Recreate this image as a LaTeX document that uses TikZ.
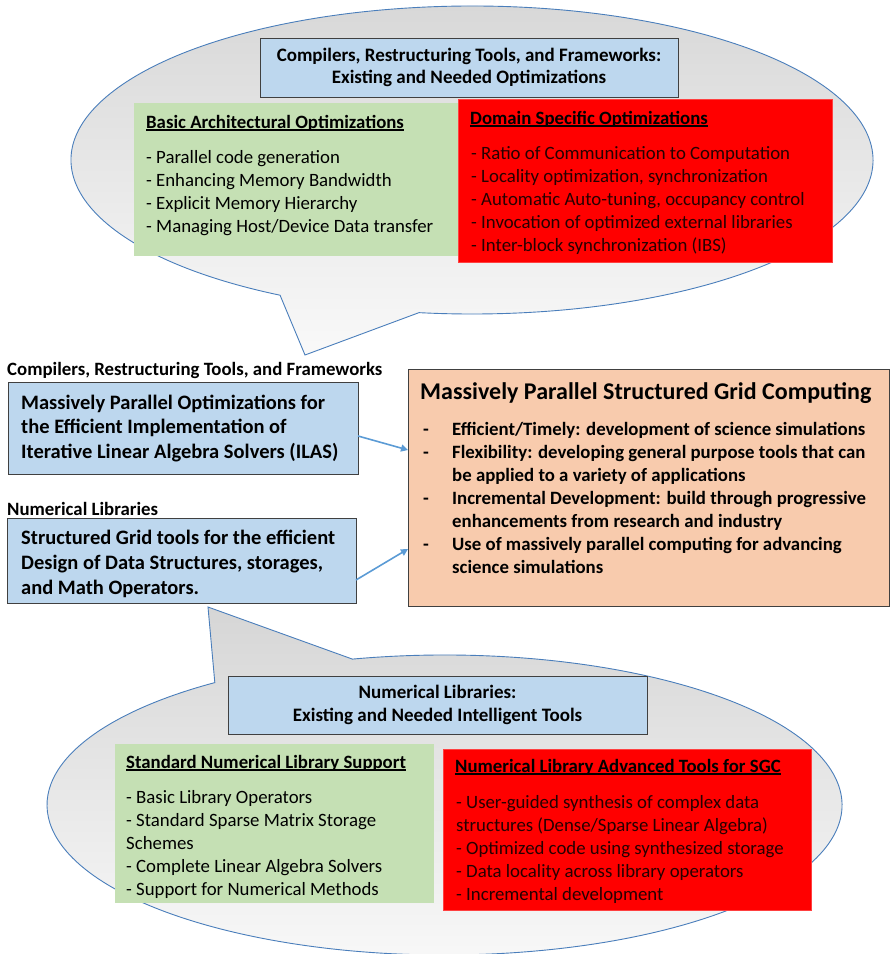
\documentclass[tikz,border=0pt]{standalone}
\usepackage{fontspec}
\setmainfont{Carlito}
\newsavebox\myulbox
\newcommand{\myul}[1]{\sbox\myulbox{#1}\rlap{\rule[-2.5pt]{\wd\myulbox}{1.4pt}}\usebox\myulbox}
\usetikzlibrary{arrows.meta}
\definecolor{lblue}{HTML}{BDD7EE}
\definecolor{lgreen}{HTML}{C5E0B4}
\definecolor{bred}{HTML}{FF0000}
\definecolor{lorange}{HTML}{F8CBAD}
\definecolor{cgray}{HTML}{D6D6D6}
\definecolor{cblue}{HTML}{4A7EBB}
\definecolor{arblue}{HTML}{5B9BD5}
\definecolor{bdark}{HTML}{404040}
\begin{document}
\begin{tikzpicture}[x=1pt,y=-1pt,
  box/.style={anchor=north west, inner sep=0pt, outer sep=0pt},
  item/.style={anchor=base west, inner sep=0pt, font=\fontsize{18.8}{22}\selectfont},
  titem/.style={anchor=base west, inner sep=0pt, font=\bfseries\fontsize{18.8}{22}\selectfont},
  bitem/.style={anchor=base west, inner sep=0pt, font=\bfseries\fontsize{18.8}{22}\selectfont},
  lab/.style={anchor=base west, inner sep=0pt, font=\bfseries\fontsize{18.8}{22}\selectfont},
  bigt/.style={anchor=base west, inner sep=0pt, font=\bfseries\fontsize{20.5}{24}\selectfont},
  callout/.style={draw=cblue, line width=0.9pt, top color=cgray, middle color=cgray!92!white, bottom color=white!85!cgray},
  arr/.style={draw=arblue, line width=1.6pt, -{Triangle[length=7pt,width=7pt]}}
]
\useasboundingbox (0,0) rectangle (891,954);

% ---------- top callout ----------
\path[callout] (472,160) ++(118.6:401 and 154)
  arc[start angle=118.6, end angle=457.6, x radius=401, y radius=154]
  -- (305,355) -- cycle;

\node[box, draw=bdark, line width=0.8pt, fill=lblue, minimum width=418pt, minimum height=59pt] (tt) at (260,38) {};
\node[align=center, inner sep=0pt, font=\bfseries\fontsize{19}{22.5}\selectfont] (ttx) at (469,67.5)
  {Compilers, Restructuring Tools, and Frameworks:\\Existing and Needed Optimizations};

\node[box, fill=lgreen, minimum width=324pt, minimum height=153pt] (g1) at (134,103) {};
\node[box, fill=bred, draw=red!75!white, line width=0.6pt, minimum width=374pt, minimum height=163pt] (r1) at (458,99) {};

\node[titem] (g1t) at (146,128) {\myul{Basic Architectural Optimizations}};
\foreach \t [count=\i] in {- Parallel code generation, - Enhancing Memory Bandwidth, - Explicit Memory Hierarchy, - Managing Host/Device Data transfer}
  \node[item] (g1i\i) at (146,{163+23*(\i-1)}) {\t};

\node[titem] (r1t) at (470,124) {\myul{Domain Specific Optimizations}};
\foreach \t [count=\i] in {- Ratio of Communication to Computation, {- Locality optimization, synchronization}, {- Automatic Auto-tuning, occupancy control}, - Invocation of optimized external libraries, - Inter-block synchronization (IBS)}
  \node[item, text=black!85!red] (r1i\i) at (471,{159+23*(\i-1)}) {\t};

% ---------- middle ----------
\node[lab] (l1) at (7,375) {Compilers, Restructuring Tools, and Frameworks};
\node[box, draw=bdark, line width=0.8pt, fill=lblue, minimum width=350pt, minimum height=92pt] (b1) at (8,382) {};
\node[bigt] (b1a) at (21,409) {Massively Parallel Optimizations for};
\node[bigt] (b1b) at (21,433) {the Efficient Implementation of};
\node[bigt] (b1c) at (21,458) {Iterative Linear Algebra Solvers (ILAS)};

\node[lab] (l2) at (7,515) {Numerical Libraries};
\node[box, draw=bdark, line width=0.8pt, fill=lblue, minimum width=349pt, minimum height=85pt] (b2) at (7,518) {};
\node[bigt] (b2a) at (21,544) {Structured Grid tools for the efficient};
\node[bigt] (b2b) at (21,569) {Design of Data Structures, storages,};
\node[bigt] (b2c) at (21,594) {and Math Operators.};

\node[box, draw=bdark, line width=0.8pt, fill=lorange, minimum width=481pt, minimum height=237pt] (mp) at (408,369) {};
\node[anchor=base west, inner sep=0pt, font=\bfseries\fontsize{24}{28}\selectfont] (mpt) at (420,399) {Massively Parallel Structured Grid Computing};
\node[bitem] (d1) at (423,435) {-};
\node[bitem] (m1) at (452,435) {Efficient/Timely: development of science simulations};
\node[bitem] (d2) at (423,458) {-};
\node[bitem] (m2) at (452,458) {Flexibility: developing general purpose tools that can};
\node[bitem] (m3) at (452,481) {be applied to a variety of applications};
\node[bitem] (d4) at (423,504) {-};
\node[bitem] (m4) at (452,504) {Incremental Development: build through progressive};
\node[bitem] (m5) at (452,527) {enhancements from research and industry};
\node[bitem] (d6) at (423,550) {-};
\node[bitem] (m6) at (452,550) {Use of massively parallel computing for advancing};
\node[bitem] (m7) at (452,573) {science simulations};

\draw[arr] ([yshift=-8pt]b1.east) -- ([yshift=37.5pt]mp.west);
\draw[arr] ([yshift=-19.5pt]b2.east) -- ([yshift=-61.5pt]mp.west);

% ---------- bottom callout ----------
\path[callout] (444.5,805) ++(-103.4:397.5 and 150)
  arc[start angle=-103.4, end angle=234.7, x radius=397.5, y radius=150]
  -- (208,607) -- cycle;

\node[box, draw=bdark, line width=0.8pt, fill=lblue, minimum width=419pt, minimum height=58pt] (bt) at (228,676) {};
\node[align=center, inner sep=0pt, font=\bfseries\fontsize{19}{22.5}\selectfont] (btx) at (437.5,705)
  {Numerical Libraries:\\Existing and Needed Intelligent Tools};

\node[box, fill=lgreen, minimum width=319pt, minimum height=159pt] (g2) at (115,744) {};
\node[box, fill=bred, draw=red!75!white, line width=0.6pt, minimum width=368pt, minimum height=161pt] (r2) at (443,749) {};

\node[titem] (g2t) at (126,768) {\myul{Standard Numerical Library Support}};
\foreach \t [count=\i] in {- Basic Library Operators, - Standard Sparse Matrix Storage, Schemes, - Complete Linear Algebra Solvers, - Support for Numerical Methods}
  \node[item] (g2i\i) at (126,{803+23*(\i-1)}) {\t};

\node[titem] (r2t) at (455,772) {\myul{Numerical Library Advanced Tools for SGC}};
\foreach \t [count=\i] in {- User-guided synthesis of complex data, structures (Dense/Sparse Linear Algebra), - Optimized code using synthesized storage, - Data locality across library operators, - Incremental development}
  \node[item, text=black!85!red] (r2i\i) at (456,{808+23*(\i-1)}) {\t};
\end{tikzpicture}
\end{document}
